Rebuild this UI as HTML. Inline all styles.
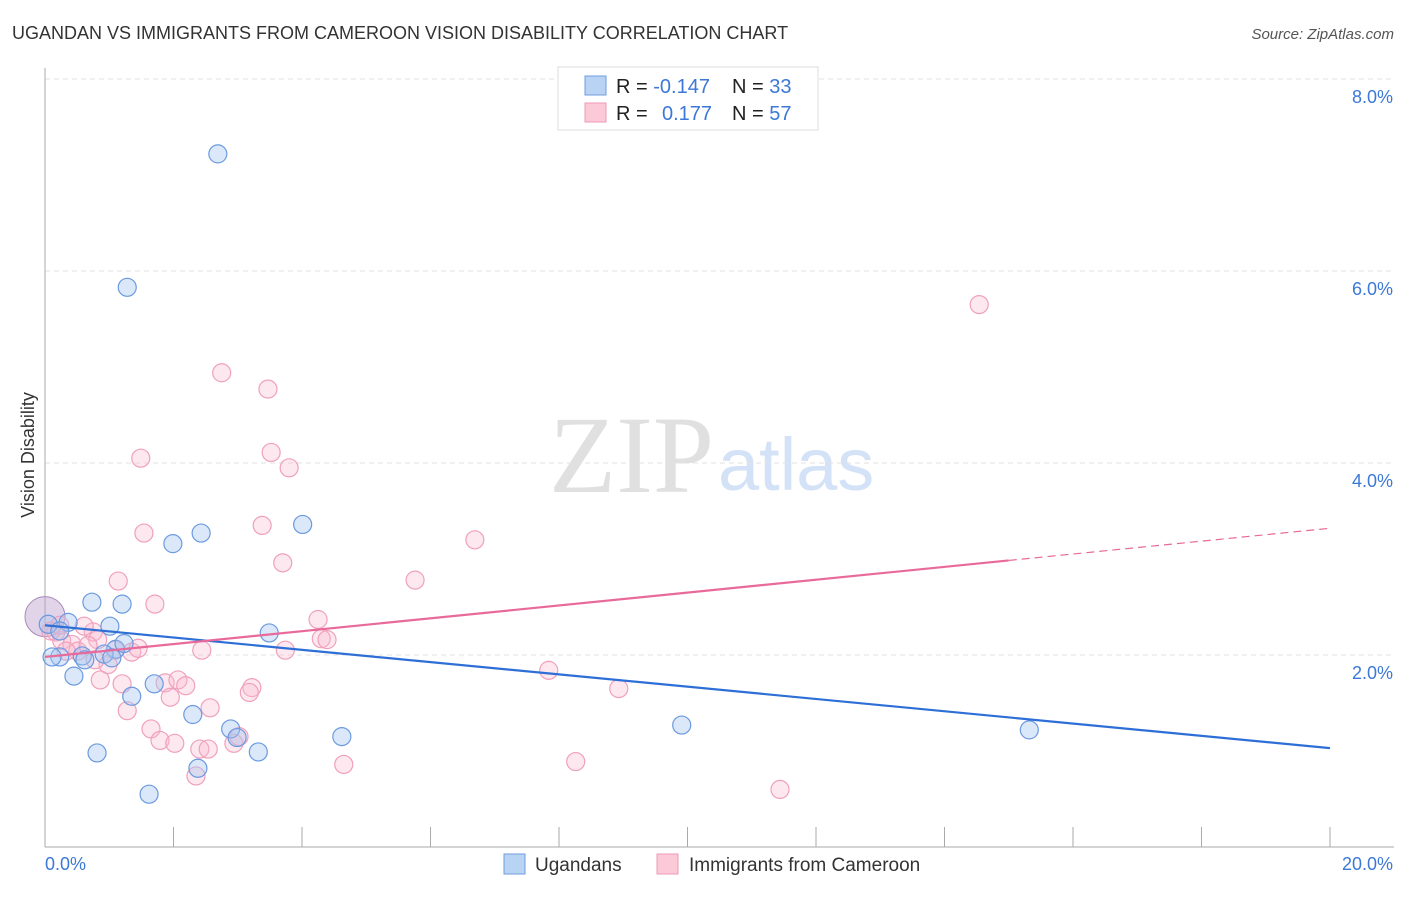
<!DOCTYPE html>
<html><head><meta charset="utf-8"><style>
body{margin:0;background:#fff;font-family:"Liberation Sans",sans-serif;}
</style></head><body>
<svg width="1406" height="892" xmlns="http://www.w3.org/2000/svg" font-family="Liberation Sans, sans-serif">
<text x="12" y="39" font-size="18" fill="#333">UGANDAN VS IMMIGRANTS FROM CAMEROON VISION DISABILITY CORRELATION CHART</text>
<text x="1394" y="39" font-size="15" fill="#555" font-style="italic" text-anchor="end">Source: ZipAtlas.com</text>
<text x="714" y="492" font-size="110" fill="#e0e0e0" text-anchor="end" font-family="Liberation Serif, serif">ZIP</text>
<text x="718" y="490" font-size="74" fill="#d3e2f6">atlas</text>
<g id="grid"></g>
<line x1="45" y1="68" x2="45" y2="847" stroke="#aaa"/>
<line x1="45" y1="847" x2="1394" y2="847" stroke="#aaa"/>
<g id="xticks"></g>
<g id="yticks"></g>
<text x="45" y="870" font-size="18" fill="#3b78d8" text-anchor="start">0.0%</text>
<text x="1393" y="870" font-size="18" fill="#3b78d8" text-anchor="end">20.0%</text>
<text transform="translate(34,455) rotate(-90)" font-size="18" fill="#333" text-anchor="middle">Vision Disability</text>
<g id="pts"></g>
<g id="trend"></g>
<g>
<rect x="558" y="67" width="260" height="63" fill="#fff" stroke="#ddd"/>
<rect x="585" y="76" width="21" height="19" fill="#b9d3f5" stroke="#6f9ee0"/>
<rect x="585" y="103" width="21" height="19" fill="#fcc9d8" stroke="#ee9ab4"/>
<text x="616" y="93" font-size="20" fill="#222">R = <tspan fill="#3b78d8">-0.147</tspan><tspan x="732">N = </tspan><tspan fill="#3b78d8">33</tspan></text>
<text x="616" y="120" font-size="20" fill="#222">R = <tspan x="662" fill="#3b78d8">0.177</tspan><tspan x="732">N = </tspan><tspan fill="#3b78d8">57</tspan></text>
</g>
<g>
<rect x="504" y="854" width="21" height="20" fill="#b9d3f5" stroke="#6f9ee0"/>
<text x="535" y="871" font-size="19" fill="#333">Ugandans</text>
<rect x="657" y="854" width="21" height="20" fill="#fcc9d8" stroke="#ee9ab4"/>
<text x="689" y="871" font-size="19" fill="#333">Immigrants from Cameroon</text>
</g>
</svg>
<script>
const yTicks=[2,4,6,8];
const xTickCount=10;
const blueX=[2.69,1.28,1.99,2.43,4.01,0.73,1.2,0.05,0.36,1.01,3.49,1.1,0.23,0.58,0.92,1.04,0.45,1.70,1.35,2.30,2.89,0.81,3.32,4.62,2.99,2.38,1.62,9.91,15.32,0.11,0.23,0.62,1.23];
const blueY=[7.22,5.83,3.16,3.27,3.36,2.55,2.53,2.32,2.34,2.30,2.23,2.06,1.98,1.99,2.01,1.97,1.78,1.70,1.57,1.38,1.23,0.98,0.99,1.15,1.14,0.82,0.55,1.27,1.22,1.98,2.25,1.95,2.12];
const pinkX=[14.54,2.75,3.47,3.52,3.80,1.49,1.54,3.38,3.70,6.69,5.76,1.14,1.71,4.25,4.30,4.39,0.75,0.17,0.26,0.61,0.42,0.82,1.09,0.51,1.35,1.45,0.98,2.44,3.74,7.84,8.93,0.86,1.87,2.07,2.19,1.95,1.20,3.22,3.18,1.28,2.57,1.65,1.79,2.02,2.41,2.54,2.94,3.02,4.65,8.26,2.35,11.44,0.09,0.23,0.33,0.67,0.78];
const pinkY=[5.65,4.94,4.77,4.11,3.95,4.05,3.27,3.35,2.96,3.20,2.78,2.77,2.53,2.37,2.17,2.16,2.24,2.24,2.15,2.30,2.11,2.16,2.05,2.04,2.03,2.07,1.9,2.05,2.05,1.84,1.65,1.74,1.71,1.74,1.68,1.56,1.70,1.66,1.61,1.42,1.45,1.23,1.11,1.08,1.02,1.02,1.08,1.15,0.86,0.89,0.74,0.6,2.25,2.31,2.04,2.10,1.95];
const blueTrend=[2.31,1.03];
const pinkTrend=[1.98,3.32];
const pinkSolidEnd=15.0;
const X=v=>45+v*64.25, Y=v=>847-v*96;
const NS='http://www.w3.org/2000/svg';
function mk(p,t,a){const e=document.createElementNS(NS,t);for(const k in a)e.setAttribute(k,a[k]);p.appendChild(e);return e;}
const grid=document.getElementById('grid'),yt=document.getElementById('yticks'),xt=document.getElementById('xticks');
yTicks.forEach(v=>{
 const l=mk(grid,'line',{x1:45,x2:1394,y1:Y(v),y2:Y(v),stroke:'#e2e2e2','stroke-dasharray':'5,4'});
 
 
 const t=mk(yt,'text',{x:1393,y:Y(v)+24,'font-size':18,fill:'#3b78d8','text-anchor':'end'});
 t.textContent=v.toFixed(1)+'%';
 
 
});
for(let i=1;i<=xTickCount;i++){
 const l=mk(xt,'line',{x1:X(i*2),x2:X(i*2),y1:827,y2:847,stroke:'#aaa'});
 
 
}
const pts=document.getElementById('pts');
const big=mk(pts,'circle',{cx:X(0),cy:Y(2.40),r:20,fill:'rgba(190,160,205,0.45)',stroke:'#a888bb'});


pinkX.forEach((x,i)=>{
 const c=mk(pts,'circle',{cx:X(x),cy:Y(pinkY[i]),r:9,fill:'rgba(248,185,205,0.33)',stroke:'#f0a0bc','stroke-width':1.2});
 
 
});
blueX.forEach((x,i)=>{
 const c=mk(pts,'circle',{cx:X(x),cy:Y(blueY[i]),r:9,fill:'rgba(165,198,240,0.4)',stroke:'#6b9ae0','stroke-width':1.2});
 
 
});
const tr=document.getElementById('trend');
const pAt=x=>pinkTrend[0]+(pinkTrend[1]-pinkTrend[0])*x/20;
let l=mk(tr,'line',{x1:X(0),y1:Y(blueTrend[0]),x2:X(20),y2:Y(blueTrend[1]),stroke:'#2d6fd6','stroke-width':2.2});


l=mk(tr,'line',{x1:X(0),y1:Y(pAt(0)),x2:X(pinkSolidEnd),y2:Y(pAt(pinkSolidEnd)),stroke:'#e8699a','stroke-width':2.2});


l=mk(tr,'line',{x1:X(pinkSolidEnd),y1:Y(pAt(pinkSolidEnd)),x2:X(20),y2:Y(pAt(20)),stroke:'#e8699a','stroke-width':1.2,'stroke-dasharray':'8,5'});


</script>
</body></html>
